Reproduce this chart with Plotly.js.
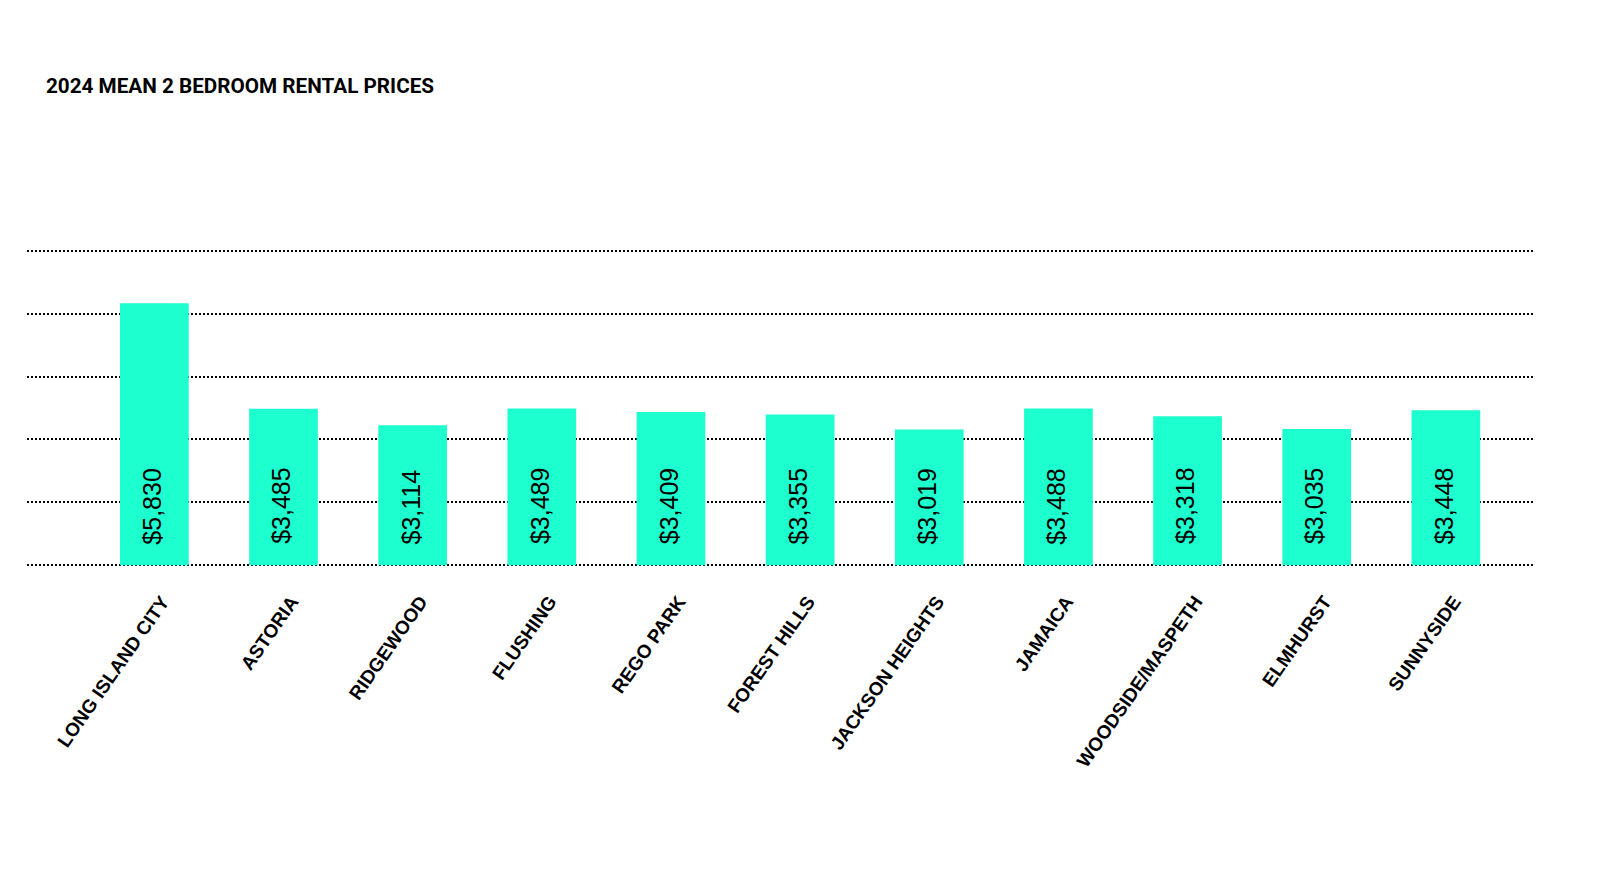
<!DOCTYPE html>
<html>
<head>
<meta charset="utf-8">
<script src="https://cdn.plot.ly/plotly-3.0.1.min.js"></script>
<style>
  html, body { margin: 0; padding: 0; background: #ffffff; }
  #chart { width: 1600px; height: 870px; }
</style>
</head>
<body>
<div id="chart"></div>
<script>
const chartTitle = "2024 MEAN 2 BEDROOM RENTAL PRICES";
const neighborhoods = [
  "LONG ISLAND CITY", "ASTORIA", "RIDGEWOOD", "FLUSHING", "REGO PARK",
  "FOREST HILLS", "JACKSON HEIGHTS", "JAMAICA", "WOODSIDE/MASPETH",
  "ELMHURST", "SUNNYSIDE"
];
const meanRent = [5830, 3485, 3114, 3489, 3409, 3355, 3019, 3488, 3318, 3035, 3448];
const gridStep = 1400;
const gridMax = 7000;

const fmt = v => "$" + v.toLocaleString("en-US");

const trace = {
  type: "bar",
  x: neighborhoods,
  y: meanRent,
  width: 0.532,
  marker: { color: "#1dffce", line: { width: 0 } },
  hoverinfo: "skip"
};

const annotations = neighborhoods.map((n, i) => ({
  x: n,
  y: 0,
  xref: "x",
  yref: "y",
  text: fmt(meanRent[i]),
  showarrow: false,
  textangle: -90,
  xanchor: "center",
  yanchor: "bottom",
  yshift: 19,
  xshift: -2,
  font: { family: "Liberation Sans, Arial, sans-serif", size: 25, color: "#000000" }
}));

const layout = {
  width: 1600,
  height: 870,
  paper_bgcolor: "#ffffff",
  plot_bgcolor: "#ffffff",
  showlegend: false,
  margin: { l: 27, r: 65, t: 248, b: 302, pad: 0 },
  title: {
    text: chartTitle,
    font: { family: "Roboto, Liberation Sans, sans-serif", size: 20.7, color: "#000000", weight: 700 },
    x: 46 / 1600,
    xref: "container",
    xanchor: "left",
    y: 1 - 86 / 870,
    yref: "container",
    yanchor: "middle"
  },
  xaxis: {
    type: "category",
    range: [-0.986, 10.69],
    showgrid: false,
    zeroline: false,
    showline: false,
    ticks: "outside",
    ticklen: 14,
    tickcolor: "rgba(0,0,0,0)",
    tickangle: -55,
    ticklabelshift: 8,
    automargin: false,
    tickfont: { family: "Liberation Sans, Arial, sans-serif", size: 19, color: "#000000", weight: 700 }
  },
  yaxis: {
    range: [-60, gridMax + 60],
    tick0: 0,
    dtick: gridStep,
    showticklabels: false,
    showgrid: true,
    gridcolor: "#000000",
    gridwidth: 2,
    griddash: "2px,2px",
    zeroline: false,
    showline: false,
    ticks: "",
    automargin: false
  },
  annotations: annotations,
  bargap: 0.4
};

Plotly.newPlot("chart", [trace], layout, { displayModeBar: false, staticPlot: true });
</script>
</body>
</html>
